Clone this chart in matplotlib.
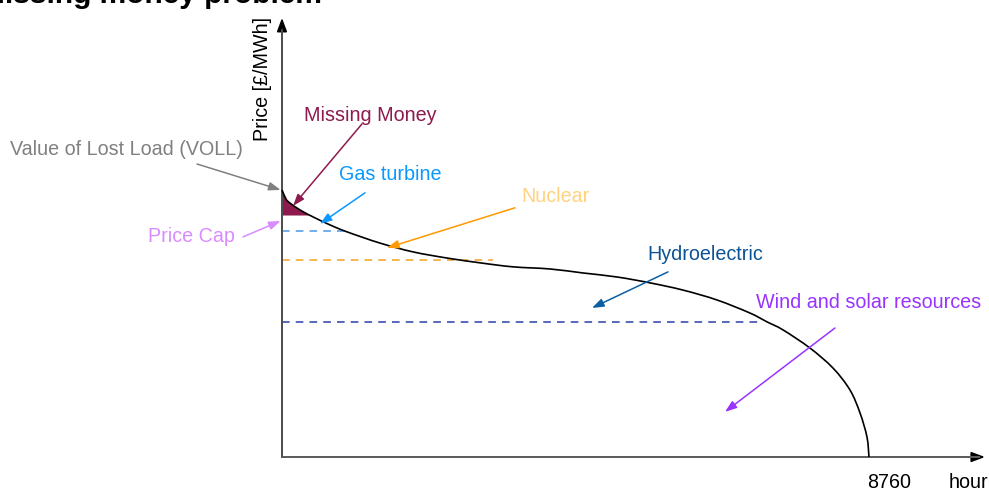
import numpy as np
import matplotlib.pyplot as plt
from matplotlib.path import Path
from matplotlib.patches import PathPatch

plt.rcParams['font.family'] = ['Liberation Sans', 'DejaVu Sans']

# price duration curve (hours of the year, price index with VOLL = 100)
hours = [0, 60, 119, 269, 463, 716, 970, 1462, 1955, 2462, 2955, 3447, 3999,
         4492, 4999, 5492, 5984, 6491, 6984, 7238, 7476, 7879, 8223, 8476,
         8626, 8730, 8760]
price = [100.0, 96.6, 95.1, 92.5, 89.9, 86.9, 84.3, 80.1, 76.8, 74.5, 72.7,
         71.2, 70.4, 68.9, 67.4, 65.2, 62.5, 58.8, 53.9, 50.6, 47.6, 40.8,
         33.3, 25.1, 16.5, 7.5, 0.0]

voll = 100.0
price_cap = 90.6
# marginal cost levels and the hour where each dashed line stops
levels = [84.6, 73.8, 50.6]
level_end = [940, 3149, 7163]
level_colors = ['#4a98e8', '#f5a020', '#2c3ea8']


def smooth_path(x, y):
    # catmull-rom through the read points, drawn as cubic beziers
    pts = np.column_stack([x, y]).astype(float)
    n = len(pts)
    verts = [pts[0]]
    codes = [Path.MOVETO]
    for i in range(n - 1):
        p0 = pts[max(i - 1, 0)]
        p1 = pts[i]
        p2 = pts[i + 1]
        p3 = pts[min(i + 2, n - 1)]
        verts += [p1 + (p2 - p0) / 6, p2 - (p3 - p1) / 6, p2]
        codes += [Path.CURVE4] * 3
    return Path(verts, codes)


fig = plt.figure(figsize=(9.89, 4.92), dpi=100)
ax = fig.add_axes([0, 0, 1, 1])
ax.set_xlim(-4208, 10551)
ax.set_ylim(-13.1, 171.1)
ax.axis('off')

# axes with arrow heads
ax.annotate('', xy=(0, 164.4), xytext=(0, 0),
            arrowprops=dict(arrowstyle='-|>,head_length=0.8,head_width=0.3',
                            color='black', lw=1.3, shrinkA=0, shrinkB=0))
ax.annotate('', xy=(10491, 0), xytext=(0, 0),
            arrowprops=dict(arrowstyle='-|>,head_length=0.8,head_width=0.3',
                            color='black', lw=1.3, shrinkA=0, shrinkB=0))
ax.plot([0, 10400], [0, 0], color='#666666', lw=1.3, zorder=3)
ax.plot([0, 0], [0, 160], color='#555555', lw=1.3, zorder=3)

# missing money area
h = np.array(hours, dtype=float)
p = np.array(price)
mask = p >= price_cap
hx = np.append(h[mask], np.interp(price_cap, p[::-1], h[::-1]))
px = np.append(p[mask], price_cap)
ax.fill_between(hx, px, price_cap, color='#8e1a4e', lw=0, zorder=2)

ax.add_patch(PathPatch(smooth_path(hours, price), fill=False,
                       edgecolor='black', lw=1.2, zorder=4))

for lv, end, c in zip(levels, level_end, level_colors):
    ax.plot([0, end], [lv, lv], color=c, lw=1.1, ls=(0, (5, 4)), zorder=2)

fs = 14.2
# title sits partly above the top edge, as in the original
ax.text(-4507, 169.8, 'Missing money problem', fontsize=21.5, fontweight='bold',
        ha='left', va='baseline')
ax.text(-298, 141.5, 'Price [£/MWh]', fontsize=fs, rotation=90,
        ha='center', va='center')
ax.text(9058, -9.7, '8760', fontsize=fs, ha='center', va='center')
ax.text(10237, -9.7, 'hour', fontsize=fs, ha='center', va='center')

notes = [
    ('Missing Money', (1313, 127.7), (1194, 124.7), (164, 94.0), '#8e1a4e'),
    ('Value of Lost Load (VOLL)', (-2328, 115.3), (-1268, 109.7), (-20, 100.0), '#808080'),
    ('Gas turbine', (1612, 105.6), (1239, 98.9), (567, 87.3), '#0a98ff'),
    ('Nuclear', (4089, 97.7), (3477, 93.3), (1567, 78.3), '#ffd27f'),
    ('Hydroelectric', (6312, 76.0), (5760, 69.3), (4626, 55.8), '#0b5394'),
    ('Wind and solar resources', (8760, 58.0), (8252, 48.3), (6611, 16.9), '#9933ff'),
    ('Price Cap', (-1358, 82.4), (-582, 82.4), (-20, 88.4), '#d98cff'),
]
arrow_colors = {'Nuclear': '#ff9900', 'Hydroelectric': '#0b5fa5'}
for label, tpos, a0, a1, c in notes:
    ax.text(tpos[0], tpos[1], label, fontsize=fs, color=c, ha='center', va='center')
    ax.annotate('', xy=a1, xytext=a0,
                arrowprops=dict(arrowstyle='-|>,head_length=0.7,head_width=0.25',
                                color=arrow_colors.get(label, c), lw=1.1,
                                shrinkA=0, shrinkB=0), zorder=5)

fig.savefig('out.png', dpi=100)
